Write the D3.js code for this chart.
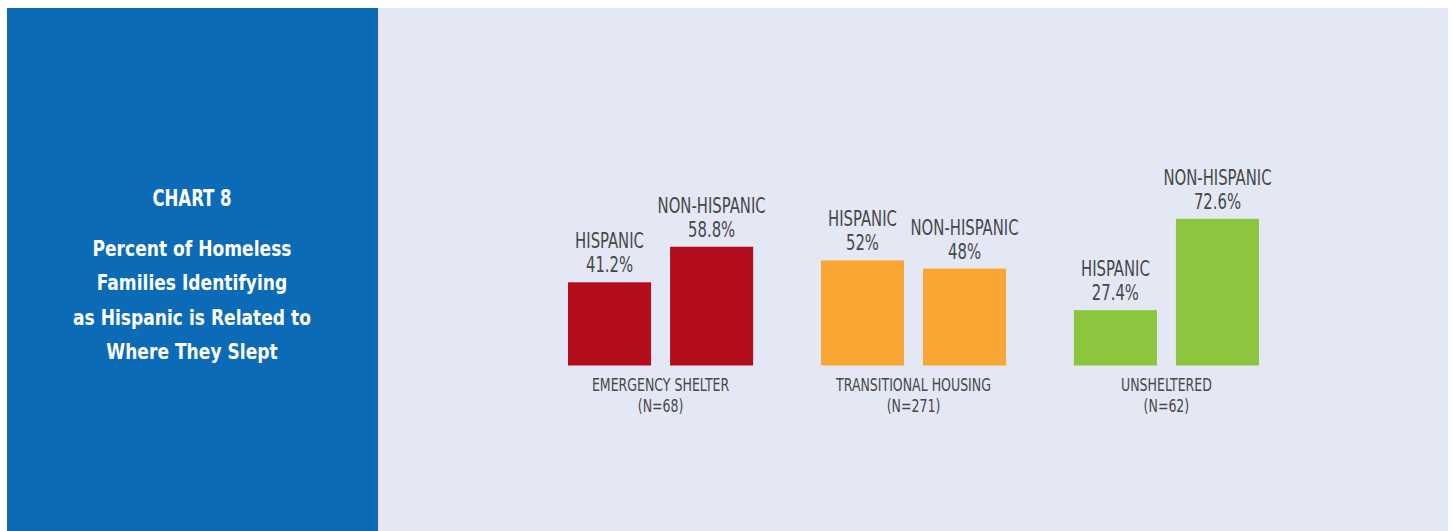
<!DOCTYPE html>
<html>
<head>
<meta charset="utf-8">
<script src="https://cdn.jsdelivr.net/npm/d3@7"></script>
<style>
  body { margin: 0; background: #fff; }
  svg text { font-family: "Liberation Sans Narrow", "Arial Narrow", "DejaVu Sans Condensed", sans-serif; }
</style>
</head>
<body>
<svg id="svg_main" width="1453" height="531"></svg>
<script>
// chart values
var groups = ["EMERGENCY SHELTER", "TRANSITIONAL HOUSING", "UNSHELTERED"];
var groupN = ["(N=68)", "(N=271)", "(N=62)"];
var series = ["HISPANIC", "NON-HISPANIC"];
var hispanic = [41.2, 52, 27.4];
var nonHispanic = [58.8, 48, 72.6];
var groupColors = ["#b30d1c", "#f9a633", "#8cc63f"];
var titleLines = ["Percent of Homeless", "Families Identifying", "as Hispanic is Related to", "Where They Slept"];

var svg = d3.select("#svg_main");

// squeezed text, the fonts we have are wider than the original
function addText(parent, x, y, str, size, sx, color, weight) {
  return parent.append("text")
    .attr("transform", "translate(" + x + "," + y + ") scale(" + sx + ",1)")
    .attr("text-anchor", "middle")
    .attr("fill", color)
    .attr("font-size", size)
    .attr("font-weight", weight || "normal")
    .text(str);
}

// panels
svg.append("rect").attr("x", 7).attr("y", 8).attr("width", 371).attr("height", 523).attr("fill", "#0c6bb6");
svg.append("rect").attr("x", 378).attr("y", 8).attr("width", 1070).attr("height", 523).attr("fill", "#e4e8f4");

// title on the blue panel
addText(svg, 192, 206, "CHART 8", 23, 0.8, "#fff", "bold");
titleLines.forEach(function(t, i) {
  addText(svg, 192, 256 + i * 34.3, t, 22, 0.865, "#fff", "bold");
});

// scales
var x0 = d3.scaleBand().domain(groups).range([568, 1259]).paddingInner(0.268).paddingOuter(0);
var x1 = d3.scaleBand().domain(series).range([0, x0.bandwidth()]).paddingInner(0.186).paddingOuter(0);
var y = d3.scaleLinear().domain([0, 100]).range([365.5, 163.5]);

var rows = groups.map(function(g, i) {
  return {
    group: g, n: groupN[i], color: groupColors[i],
    bars: [
      { key: series[0], value: hispanic[i] },
      { key: series[1], value: nonHispanic[i] }
    ]
  };
});

var gGroup = svg.append("g").selectAll("g")
  .data(rows)
  .enter().append("g")
  .attr("transform", function(d) { return "translate(" + x0(d.group) + ",0)"; });

gGroup.selectAll("rect")
  .data(function(d) { return d.bars.map(function(b) { b.color = d.color; return b; }); })
  .enter().append("rect")
  .attr("x", function(d) { return x1(d.key); })
  .attr("y", function(d) { return y(d.value); })
  .attr("width", x1.bandwidth())
  .attr("height", function(d) { return y(0) - y(d.value); })
  .attr("fill", function(d) { return d.color; });

// labels above the bars and below each group
gGroup.each(function(row) {
  var g = d3.select(this);
  row.bars.forEach(function(b) {
    var cx = x1(b.key) + x1.bandwidth() / 2;
    addText(g, cx, y(b.value) - 34, b.key, 22, 0.75, "#474747");
    addText(g, cx, y(b.value) - 10, b.value + "%", 22, 0.75, "#474747");
  });
  addText(g, x0.bandwidth() / 2, 391, row.group, 18, 0.775, "#474747");
  addText(g, x0.bandwidth() / 2, 412, row.n, 18, 0.775, "#474747");
});
</script>
</body>
</html>
